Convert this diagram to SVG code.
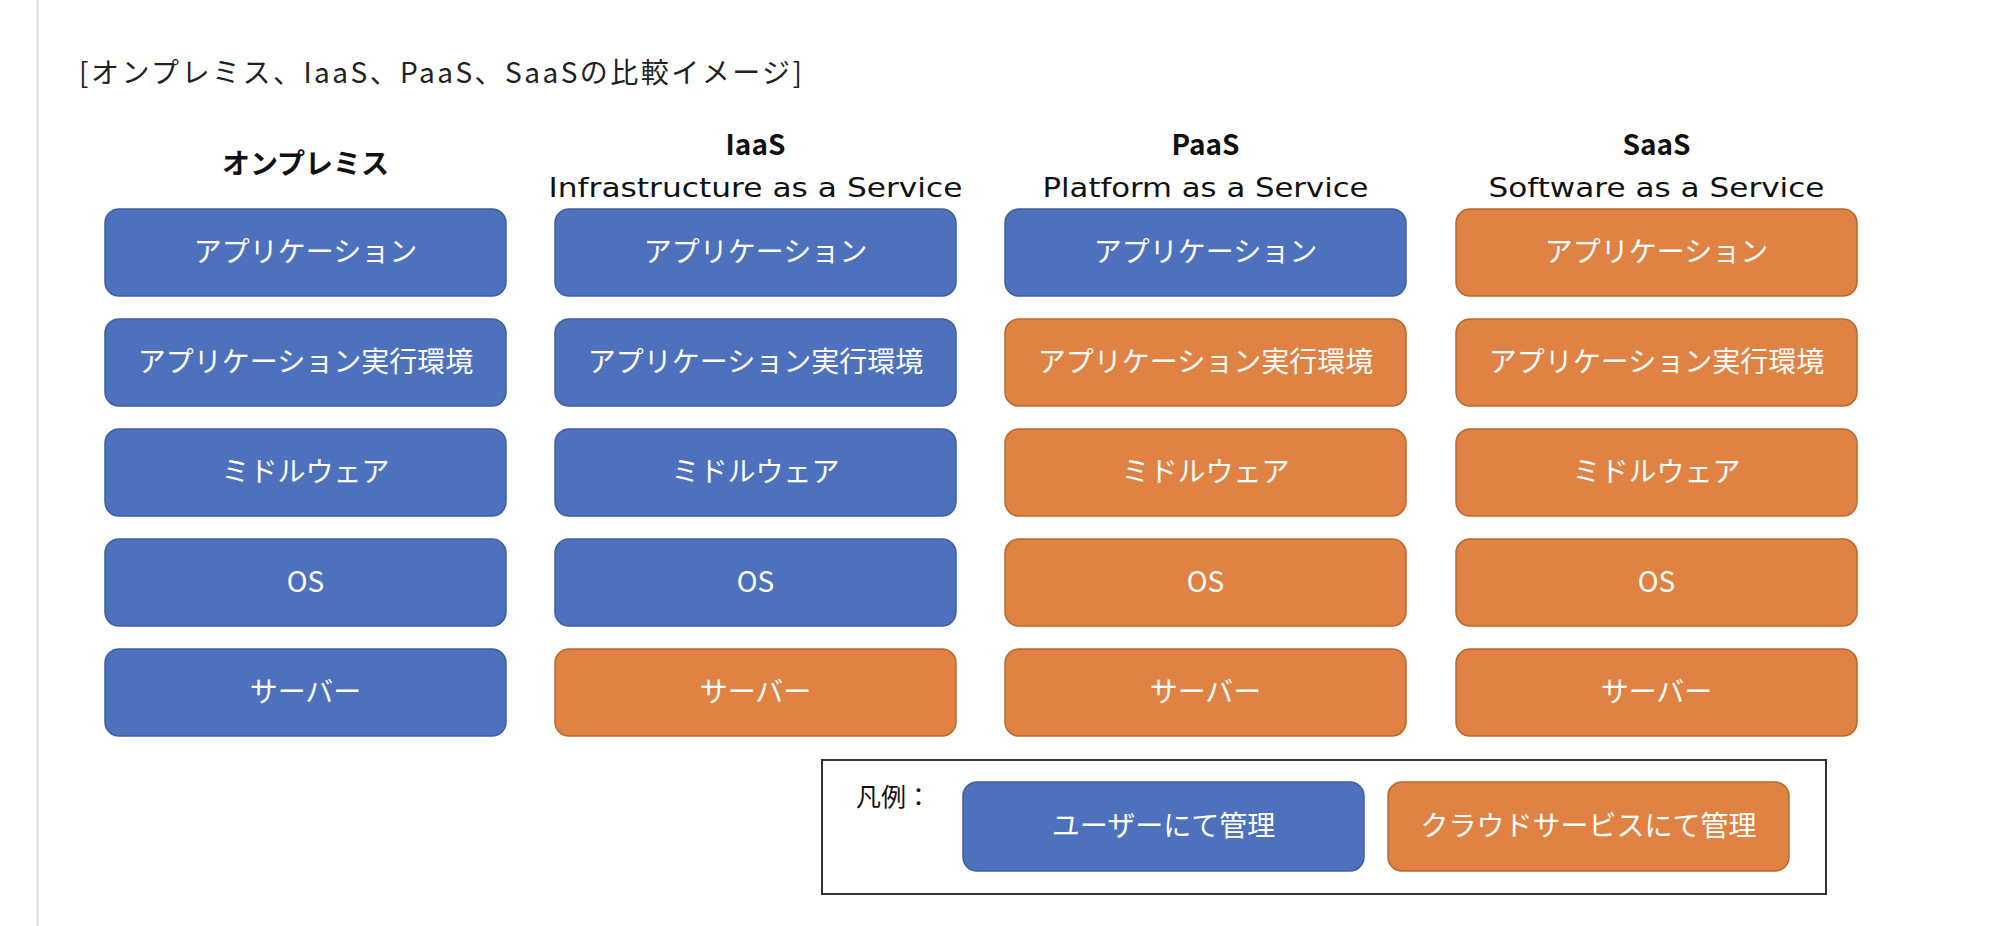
<svg xmlns="http://www.w3.org/2000/svg" width="1990" height="926" viewBox="0 0 1990 926">
<style>
.bg{fill:#ffffff}
.u{fill:#4E71BE;stroke:#3F5F9E;stroke-width:1.5}
.c{fill:#DF8244;stroke:#B9692F;stroke-width:1.5}
.bt{font-family:"Noto Sans CJK JP","Noto Sans",sans-serif;font-size:28px;fill:#ffffff;text-anchor:middle}
.hd{font-family:"Noto Sans CJK JP","Noto Sans",sans-serif;font-size:28px;font-weight:bold;fill:#111111;text-anchor:middle}
.sub{font-family:"DejaVu Sans","Noto Sans",sans-serif;font-size:27px;fill:#111111;text-anchor:middle}
.title{font-family:"Noto Sans CJK JP","Noto Sans",sans-serif;font-size:28px;fill:#222222}
.lg{font-family:"Noto Sans CJK JP","Noto Sans",sans-serif;font-size:25px;fill:#111111}
</style>
<rect class="bg" x="0" y="0" width="1990" height="926"/>
<line x1="37.5" y1="0" x2="37.5" y2="926" stroke="#dddddd" stroke-width="2"/>
<text class="title" x="79" y="83" textLength="723" lengthAdjust="spacing">[オンプレミス、IaaS、PaaS、SaaSの比較イメージ]</text>

<g id="headers">
<text class="hd" x="305.5" y="174">オンプレミス</text>
<text class="hd" x="755.5" y="155">IaaS</text>
<text class="sub" x="755.5" y="197" textLength="414" lengthAdjust="spacingAndGlyphs">Infrastructure as a Service</text>
<text class="hd" x="1205.5" y="155">PaaS</text>
<text class="sub" x="1205.5" y="197" textLength="326" lengthAdjust="spacingAndGlyphs">Platform as a Service</text>
<text class="hd" x="1656.5" y="155">SaaS</text>
<text class="sub" x="1656.5" y="197" textLength="336" lengthAdjust="spacingAndGlyphs">Software as a Service</text>
</g>

<g id="onprem">
<g id="onprem-app"><rect class="u" x="105" y="209" width="401" height="87" rx="14"/><text class="bt" x="305.5" y="262">アプリケーション</text></g>
<g id="onprem-runtime"><rect class="u" x="105" y="319" width="401" height="87" rx="14"/><text class="bt" x="305.5" y="372">アプリケーション実行環境</text></g>
<g id="onprem-mw"><rect class="u" x="105" y="429" width="401" height="87" rx="14"/><text class="bt" x="305.5" y="482">ミドルウェア</text></g>
<g id="onprem-os"><rect class="u" x="105" y="539" width="401" height="87" rx="14"/><text class="bt" x="305.5" y="592">OS</text></g>
<g id="onprem-server"><rect class="u" x="105" y="649" width="401" height="87" rx="14"/><text class="bt" x="305.5" y="702">サーバー</text></g>
</g>

<g id="iaas">
<g id="iaas-app"><rect class="u" x="555" y="209" width="401" height="87" rx="14"/><text class="bt" x="755.5" y="262">アプリケーション</text></g>
<g id="iaas-runtime"><rect class="u" x="555" y="319" width="401" height="87" rx="14"/><text class="bt" x="755.5" y="372">アプリケーション実行環境</text></g>
<g id="iaas-mw"><rect class="u" x="555" y="429" width="401" height="87" rx="14"/><text class="bt" x="755.5" y="482">ミドルウェア</text></g>
<g id="iaas-os"><rect class="u" x="555" y="539" width="401" height="87" rx="14"/><text class="bt" x="755.5" y="592">OS</text></g>
<g id="iaas-server"><rect class="c" x="555" y="649" width="401" height="87" rx="14"/><text class="bt" x="755.5" y="702">サーバー</text></g>
</g>

<g id="paas">
<g id="paas-app"><rect class="u" x="1005" y="209" width="401" height="87" rx="14"/><text class="bt" x="1205.5" y="262">アプリケーション</text></g>
<g id="paas-runtime"><rect class="c" x="1005" y="319" width="401" height="87" rx="14"/><text class="bt" x="1205.5" y="372">アプリケーション実行環境</text></g>
<g id="paas-mw"><rect class="c" x="1005" y="429" width="401" height="87" rx="14"/><text class="bt" x="1205.5" y="482">ミドルウェア</text></g>
<g id="paas-os"><rect class="c" x="1005" y="539" width="401" height="87" rx="14"/><text class="bt" x="1205.5" y="592">OS</text></g>
<g id="paas-server"><rect class="c" x="1005" y="649" width="401" height="87" rx="14"/><text class="bt" x="1205.5" y="702">サーバー</text></g>
</g>

<g id="saas">
<g id="saas-app"><rect class="c" x="1456" y="209" width="401" height="87" rx="14"/><text class="bt" x="1656.5" y="262">アプリケーション</text></g>
<g id="saas-runtime"><rect class="c" x="1456" y="319" width="401" height="87" rx="14"/><text class="bt" x="1656.5" y="372">アプリケーション実行環境</text></g>
<g id="saas-mw"><rect class="c" x="1456" y="429" width="401" height="87" rx="14"/><text class="bt" x="1656.5" y="482">ミドルウェア</text></g>
<g id="saas-os"><rect class="c" x="1456" y="539" width="401" height="87" rx="14"/><text class="bt" x="1656.5" y="592">OS</text></g>
<g id="saas-server"><rect class="c" x="1456" y="649" width="401" height="87" rx="14"/><text class="bt" x="1656.5" y="702">サーバー</text></g>
</g>

<g id="legend">
<rect x="822" y="760" width="1004" height="134" fill="none" stroke="#333333" stroke-width="2"/>
<text class="lg" x="856" y="806">凡例：</text>
<g id="legend-user"><rect class="u" x="963" y="782" width="401" height="89" rx="14"/><text class="bt" x="1163.5" y="836">ユーザーにて管理</text></g>
<g id="legend-cloud"><rect class="c" x="1388" y="782" width="401" height="89" rx="14"/><text class="bt" x="1588.5" y="836">クラウドサービスにて管理</text></g>
</g>

<g id="connectors"/>
</svg>
